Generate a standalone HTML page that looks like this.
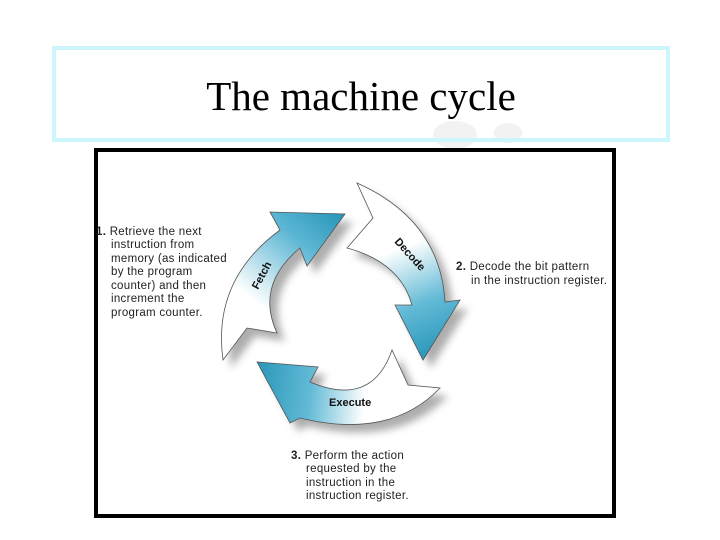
<!DOCTYPE html>
<html><head><style>
body{margin:0;width:720px;height:540px;background:#fff;overflow:hidden;position:relative;font-family:"Liberation Sans",sans-serif}
.title{position:absolute;left:52px;top:46px;width:610px;height:88px;border:4px solid #ccf6fb;box-sizing:content-box}
.title div{font-family:"Liberation Serif",serif;font-size:41px;text-align:center;line-height:92px;color:#000}
.frame{position:absolute;left:94px;top:148px;width:514px;height:362px;border:4px solid #000;background:#fff}
</style></head><body>
<svg style="position:absolute;left:0;top:0" width="720" height="540">
<ellipse cx="455" cy="135" rx="22" ry="14" fill="#f2f2f2"/>
<ellipse cx="508" cy="133" rx="14" ry="10" fill="#f2f2f2"/>
</svg>
<div class="title"><div>The machine cycle</div></div>
<div class="frame"></div>
<svg style="position:absolute;left:0;top:0" width="720" height="540" font-family="Liberation Sans, sans-serif">
<defs>
<linearGradient id="gf" x1="223" y1="360" x2="340" y2="214" gradientUnits="userSpaceOnUse"><stop offset="0.35" stop-color="#fff"/><stop offset="0.75" stop-color="#5db7d4"/><stop offset="1" stop-color="#2a97ba"/></linearGradient>
<linearGradient id="gd" x1="357" y1="200" x2="423" y2="360" gradientUnits="userSpaceOnUse"><stop offset="0.35" stop-color="#fff"/><stop offset="0.7" stop-color="#62bad6"/><stop offset="1" stop-color="#2a97ba"/></linearGradient>
<linearGradient id="ge" x1="440" y1="388" x2="257" y2="370" gradientUnits="userSpaceOnUse"><stop offset="0.4" stop-color="#fff"/><stop offset="0.7" stop-color="#62bad6"/><stop offset="1" stop-color="#2a97ba"/></linearGradient>
<filter id="sh"><feGaussianBlur stdDeviation="4"/></filter>
</defs>
<g fill="#777" opacity="0.6" filter="url(#sh)" transform="translate(8,8)">
<path d="M223,360 Q212,280 280,230 L270,212 L345,214 L307,266 L300,248 Q255,285 277,333 L247,328 Z"/>
<path d="M357,183 Q440,220 445,302 L460,300 L423,360 L395,305 L412,305 Q400,262 347,248 L373,218 Z"/>
<path d="M440,388 Q390,440 300,418 L290,423 L257,362 L318,367 L310,382 Q372,408 392,350 L408,385 Z"/>
</g>
<g stroke="#555" stroke-width="0.8">
<path d="M223,360 Q212,280 280,230 L270,212 L345,214 L307,266 L300,248 Q255,285 277,333 L247,328 Z" fill="url(#gf)"/>
<path d="M357,183 Q440,220 445,302 L460,300 L423,360 L395,305 L412,305 Q400,262 347,248 L373,218 Z" fill="url(#gd)"/>
<path d="M440,388 Q390,440 300,418 L290,423 L257,362 L318,367 L310,382 Q372,408 392,350 L408,385 Z" fill="url(#ge)"/>
</g>
<g font-weight="bold" font-size="11" fill="#111">
<text transform="translate(258,290) rotate(-62)">Fetch</text>
<text transform="translate(394,242) rotate(48)">Decode</text>
<text x="329" y="406">Execute</text>
</g>
<g font-size="11.5" fill="#222" letter-spacing="0.3">
<text x="96" y="235"><tspan font-weight="bold">1.</tspan> Retrieve the next</text>
<text x="111" y="248">instruction from</text>
<text x="111" y="262">memory (as indicated</text>
<text x="111" y="275">by the program</text>
<text x="111" y="289">counter) and then</text>
<text x="111" y="302">increment the</text>
<text x="111" y="316">program counter.</text>
<text x="456" y="270"><tspan font-weight="bold">2.</tspan> Decode the bit pattern</text>
<text x="471" y="284">in the instruction register.</text>
<text x="291" y="459"><tspan font-weight="bold">3.</tspan> Perform the action</text>
<text x="306" y="472">requested by the</text>
<text x="306" y="486">instruction in the</text>
<text x="306" y="499">instruction register.</text>
</g>
</svg>
</body></html>
